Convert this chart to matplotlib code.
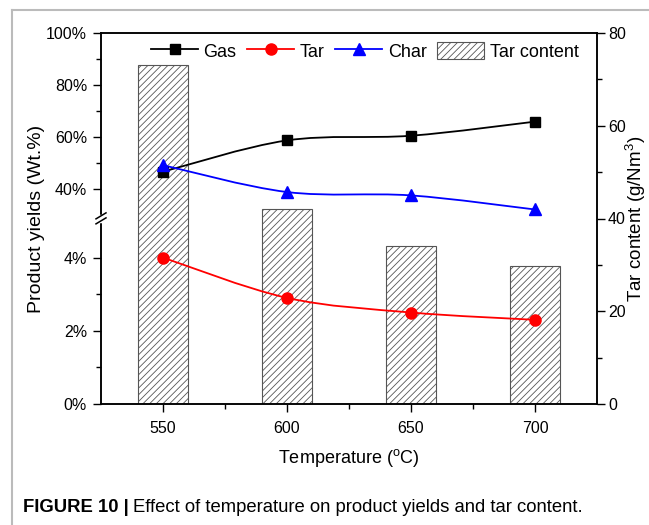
import numpy as np
import matplotlib
matplotlib.use("Agg")
import matplotlib.pyplot as plt
from matplotlib.path import Path
from matplotlib.patches import PathPatch, Patch
from matplotlib.lines import Line2D

plt.rcParams['font.family'] = ['Liberation Sans', 'DejaVu Sans']
plt.rcParams['mathtext.fontset'] = 'custom'
plt.rcParams['mathtext.rm'] = 'Liberation Sans'
plt.rcParams['hatch.linewidth'] = 0.6
plt.rcParams['hatch.color'] = '#333333'

# ---- data ----
temperatures = [550, 600, 650, 700]
gas = [46.8, 58.8, 60.6, 66.0]
tar = [4.0, 2.9, 2.5, 2.3]
char = [49.3, 39.0, 37.7, 32.3]
tar_content = [73.0, 42.0, 34.0, 29.8]

left_ticks = [0, 2, 4, 40, 60, 80, 100]
left_ticklabels = ['0%', '2%', '4%', '40%', '60%', '80%', '100%']
right_ticks = [0, 20, 40, 60, 80]
x_ticks = [550, 600, 650, 700]

# ---- broken-axis scale (piecewise linear) ----
v_knots = np.array([0.0, 5.0, 30.0, 100.0])
p_knots = np.array([0.0, 182.5, 188.0, 370.0])


def fwd(v):
    return np.interp(v, v_knots, p_knots)


def inv(p):
    return np.interp(p, p_knots, v_knots)


fig = plt.figure(figsize=(6.49, 5.25), dpi=100)
ax = fig.add_axes([101 / 649, 1 - 404 / 525, 496 / 649, 371 / 525])
ax2 = ax.twinx()
ax2.set_zorder(ax.get_zorder() - 1)
ax.patch.set_visible(False)

# bars on right axis
bars = ax2.bar(temperatures, tar_content, width=20, facecolor='white',
               edgecolor='#555555', linewidth=0.8, hatch='/////')
ax2.set_ylim(0, 80)
ax2.set_yticks(right_ticks)
ax2.set_yticks([10, 30, 50, 70], minor=True)

ax.set_yscale('function', functions=(fwd, inv))
ax.set_ylim(0, 100)
ax.set_xlim(525, 725)


def smooth_path(xs, ys):
    xs = np.asarray(xs, float)
    ys = np.asarray(ys, float)
    pts = np.column_stack([xs, ys])
    n = len(pts)
    verts = [pts[0]]
    codes = [Path.MOVETO]
    for i in range(n - 1):
        p0 = pts[i - 1] if i > 0 else pts[i]
        p1 = pts[i]
        p2 = pts[i + 1]
        p3 = pts[i + 2] if i + 2 < n else pts[i + 1]
        c1 = p1 + (p2 - p0) / 6.0
        c2 = p2 - (p3 - p1) / 6.0
        verts += [c1, c2, p2]
        codes += [Path.CURVE4] * 3
    return Path(verts, codes)


series = [
    ('Gas', gas, 'black', 's', 7),
    ('Tar', tar, '#ff0000', 'o', 8),
    ('Char', char, '#0000ff', '^', 8.5),
]
handles = []
for name, vals, col, mk, ms in series:
    pp = PathPatch(smooth_path(temperatures, vals), facecolor='none',
                   edgecolor=col, linewidth=1.3, transform=ax.transData,
                   zorder=3)
    ax.add_patch(pp)
    ax.plot(temperatures, vals, linestyle='none', marker=mk, color=col,
            markersize=ms, zorder=4)
    handles.append(Line2D([], [], color=col, marker=mk, markersize=ms,
                          linewidth=1.3, label=name))
handles.append(Patch(facecolor='white', edgecolor='#555555', hatch='/////',
                     linewidth=0.8, label='Tar content'))

ax.legend(handles=handles, ncol=4, frameon=False, loc='upper right',
          bbox_to_anchor=(0.985, 1.005), fontsize=13, handlelength=2.6,
          handleheight=1.1, handletextpad=0.3, columnspacing=0.6,
          borderaxespad=0.2)

ax.set_yticks(left_ticks)
ax.set_yticklabels(left_ticklabels)
ax.set_yticks([1, 3, 50, 70, 90], minor=True)
ax.set_xticks(x_ticks)
ax.set_xticks([575, 625, 675], minor=True)

for a in (ax, ax2):
    a.tick_params(which='major', direction='out', length=6, width=1,
                  labelsize=11.5)
    a.tick_params(which='minor', direction='out', length=3.5, width=1)
    for s in a.spines.values():
        s.set_linewidth(1.1)
ax.tick_params(axis='x', pad=6)
ax.tick_params(axis='y', pad=4)
ax2.tick_params(axis='y', pad=2)

ax.set_xlabel('Temperature ($\\mathregular{^{o}}$C)', fontsize=13, labelpad=8)
ax.set_ylabel('Product yields (Wt.%)', fontsize=14)
ax.yaxis.set_label_coords(-0.113, 0.5)
ax2.set_ylabel('Tar content (g/Nm$\\mathregular{^3}$)', fontsize=13.5)
ax2.yaxis.set_label_coords(1.055, 0.5)

# break marks on the left axis
yb = fwd(17.0) / fwd(100.0)
dx = 5 / 496
dy = 3 / 371
g = 2.5 / 371
ax.plot([0, 0], [yb - g, yb + g], transform=ax.transAxes, color='white',
        lw=2.5, clip_on=False, zorder=10)
for off in (-g, g):
    ax.plot([-dx, dx], [yb + off - dy, yb + off + dy], transform=ax.transAxes,
            color='black', lw=1.1, clip_on=False, zorder=11)

# page border
fig.add_artist(Line2D([12 / 649, 12 / 649], [0, 1 - 10 / 525],
                      transform=fig.transFigure, color='#bbbbbb', lw=1.5))
fig.add_artist(Line2D([12 / 649, 1], [1 - 10 / 525, 1 - 10 / 525],
                      transform=fig.transFigure, color='#bbbbbb', lw=1.5))

# caption
t1 = fig.text(23 / 649, 1 - 516 / 525, 'FIGURE 10 |', fontsize=13.3,
              fontweight='bold', va='bottom', ha='left')
ax.annotate('Effect of temperature on product yields and tar content.',
            xy=(1, 0), xycoords=t1, xytext=(3, 0), textcoords='offset points',
            fontsize=13.3, va='bottom', ha='left', annotation_clip=False)

fig.savefig('out.png', dpi=100)
